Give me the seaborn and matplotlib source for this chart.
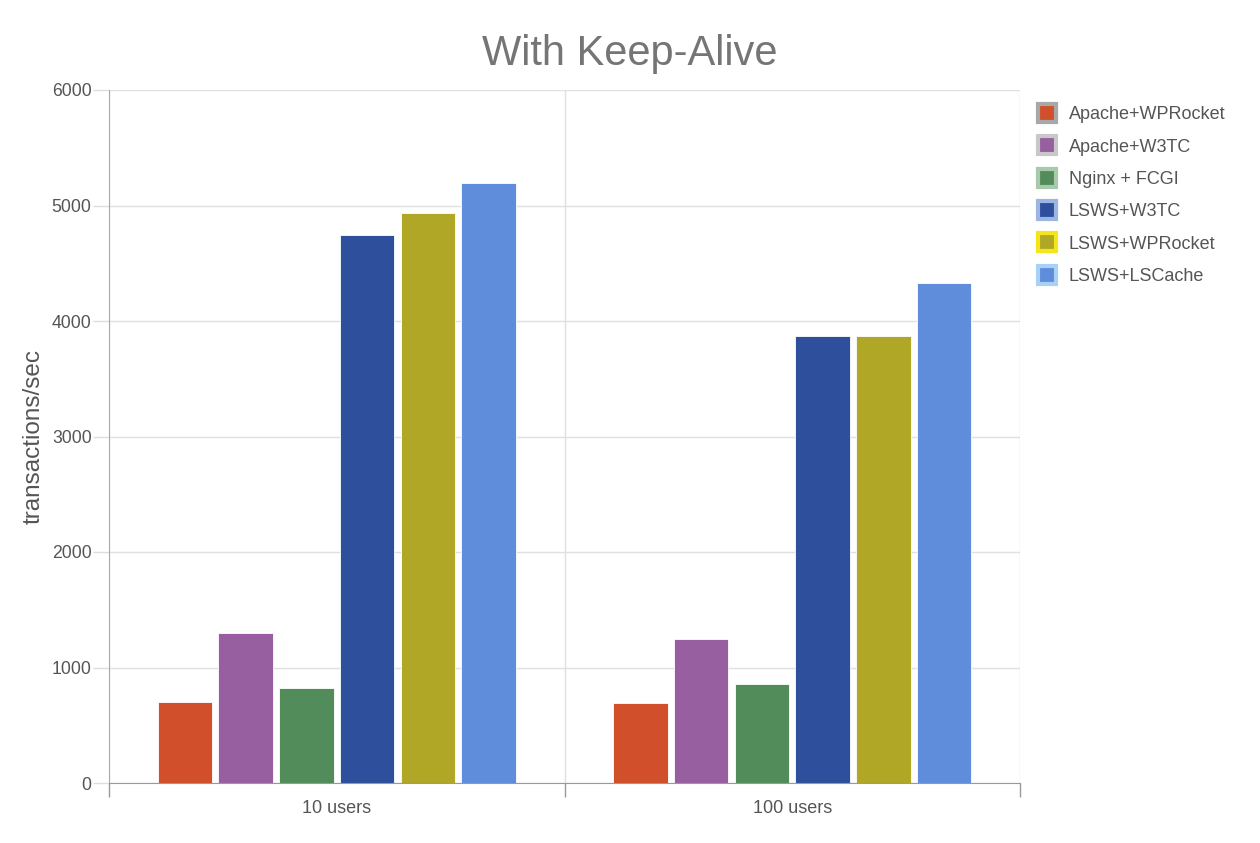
import pandas as pd
import numpy as np
import matplotlib
matplotlib.use('Agg')
import matplotlib.pyplot as plt
from matplotlib.lines import Line2D
import seaborn as sns

# data
groups = ['10 users', '100 users']
servers = ['Apache+WPRocket', 'Apache+W3TC', 'Nginx + FCGI', 'LSWS+W3TC', 'LSWS+WPRocket', 'LSWS+LSCache']
vals_10 = [700, 1300, 822, 4745, 4935, 5195]
vals_100 = [692, 1247, 857, 3870, 3870, 4329]
colors = ['#D14F2A', '#975EA0', '#528C5A', '#2E4F9C', '#B0A726', '#5F8CDB']
halo = ['#A8A8A8', '#C8C8C8', '#A9C9AC', '#9DB5E3', '#F5E51B', '#A9D0F5']

df = pd.DataFrame({
    'group': [groups[0]] * 6 + [groups[1]] * 6,
    'server': servers * 2,
    'tps': vals_10 + vals_100,
})

sns.set_style('white')
plt.rcParams['font.family'] = ['Liberation Sans', 'DejaVu Sans']

fig = plt.figure(figsize=(12.6, 8.43), dpi=100)
ax = fig.add_axes([109 / 1260, 1 - 783 / 843, (1020 - 109) / 1260, (783 - 90) / 843])

sns.barplot(data=df, x='group', y='tps', hue='server', hue_order=servers,
            palette=colors, saturation=1, width=0.8, gap=0.1, ax=ax, legend=False,
            edgecolor='white', linewidth=0.6)

ax.set_xlim(-0.5, 1.5)
ax.set_ylim(0, 6000)
ax.set_yticks(range(0, 6001, 1000))
ax.set_xticks([0, 1])
ax.set_xticks([-0.5, 0.5, 1.5], minor=True)
ax.tick_params(axis='x', which='major', bottom=False, length=0, labelsize=13, labelcolor='#555555', pad=12)
ax.tick_params(axis='x', which='minor', bottom=True, length=10, color='#999999', width=1, direction='out')
ax.tick_params(axis='y', left=True, length=11.5, color='#dddddd', width=1, labelsize=12.7,
               labelcolor='#555555', pad=1)
ax.yaxis.grid(True, color='#e0e0e0', linewidth=1)
ax.xaxis.grid(True, which='minor', color='#e0e0e0', linewidth=1)
ax.set_axisbelow(True)
for s in ['top', 'right']:
    ax.spines[s].set_visible(False)
ax.spines['left'].set_color('#aaaaaa')
ax.spines['bottom'].set_color('#999999')
ax.set_xlabel('')
ax.set_ylabel('transactions/sec', fontsize=17.5, color='#555555', labelpad=5)

fig.text(630 / 1260, 1 - 54 / 843, 'With Keep-Alive', ha='center', va='center',
         fontsize=30, color='#757575')

handles = [Line2D([], [], marker='s', linestyle='none', markersize=13,
                  markerfacecolor=c, markeredgecolor=h, markeredgewidth=3)
           for c, h in zip(colors, halo)]
fig.legend(handles, servers, loc='upper left', bbox_to_anchor=(1020 / 1260, 1 - 90 / 843),
           frameon=False, fontsize=13, labelcolor='#555555', handletextpad=0.6,
           labelspacing=0.85, handlelength=1.2)

fig.savefig('out.png', dpi=100)
